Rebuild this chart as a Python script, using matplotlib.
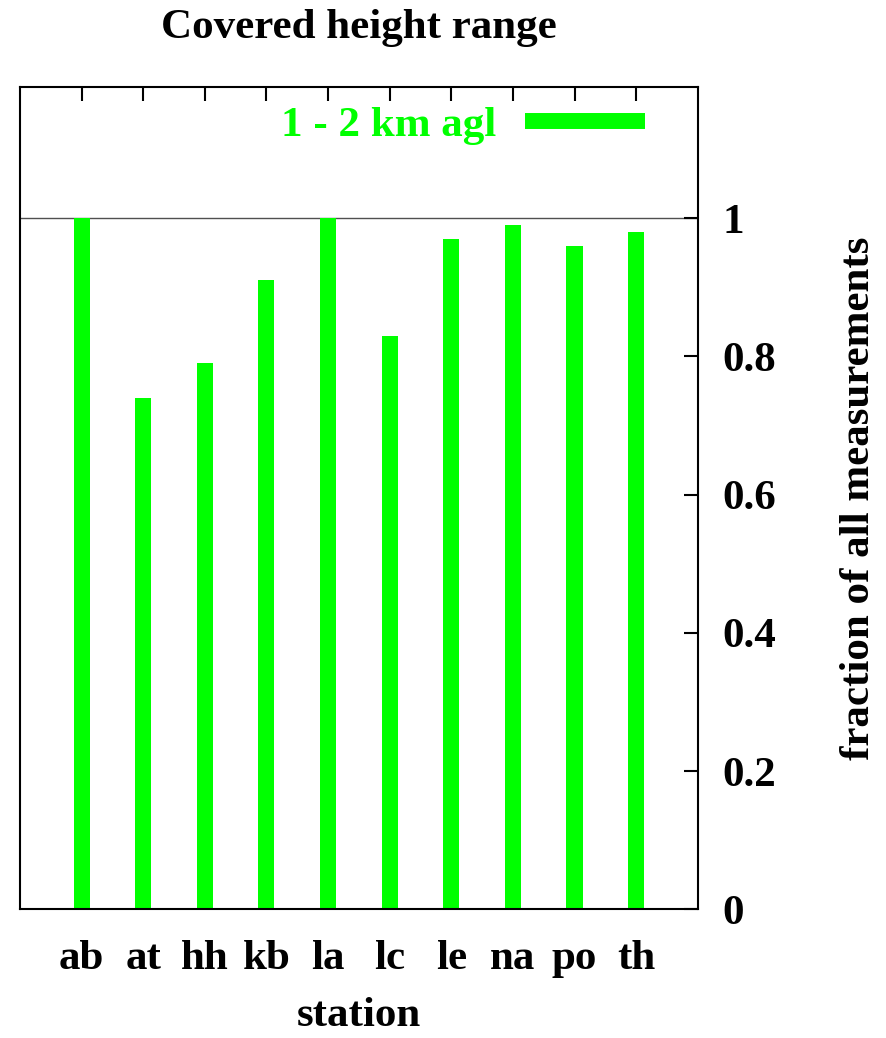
import numpy as np
import matplotlib.pyplot as plt
from matplotlib.lines import Line2D

# data
stations = ['ab', 'at', 'hh', 'kb', 'la', 'lc', 'le', 'na', 'po', 'th']
fraction = [1.0, 0.74, 0.79, 0.91, 1.0, 0.83, 0.97, 0.99, 0.96, 0.98]
yticks = [0, 0.2, 0.4, 0.6, 0.8, 1]
ytick_labels = ['0', '0.2', '0.4', '0.6', '0.8', '1']
series_label = '1 - 2 km agl'

green = '#00ff00'
fs = 31
plt.rcParams['font.family'] = ['Liberation Serif', 'DejaVu Serif']
plt.rcParams['font.weight'] = 'bold'

fig = plt.figure(figsize=(8.86, 10.38), dpi=100)
ax = fig.add_axes([0.0226, 0.124, 0.7649, 0.7925])

x = np.arange(len(stations))
ax.bar(x, fraction, width=0.26, color=green, zorder=2)
ax.axhline(1, color='#505050', lw=1.0, zorder=1)

ax.set_xlim(-1, 10)
ax.set_ylim(0, 1.19)

# y axis on the right, ticks inward
ax.yaxis.tick_right()
ax.yaxis.set_label_position('right')
ax.set_yticks(yticks)
ax.set_yticklabels(ytick_labels, fontsize=fs, fontweight='bold', ha='left')
ax.tick_params(axis='y', direction='in', length=10, width=1.5, pad=18, left=False)

# x tick labels at the bottom, tick marks only on top
ax.set_xticks(x)
ax.set_xticklabels(stations, fontsize=fs, fontweight='bold')
ax.tick_params(axis='x', direction='in', length=10, width=1.5, bottom=False, top=True, pad=22)

for s in ax.spines.values():
    s.set_linewidth(1.5)

ax.set_xlabel('station', fontsize=fs, fontweight='bold', labelpad=14)
ax.set_ylabel('fraction of all measurements', fontsize=fs, fontweight='bold', labelpad=46)
ax.set_title('Covered height range', fontsize=fs, fontweight='bold', pad=35)

handle = Line2D([], [], color=green, lw=11.5, solid_capstyle='butt')
leg = ax.legend([handle], [series_label], loc='upper right', frameon=False,
                markerfirst=False, handlelength=2.8, handletextpad=0.65,
                fontsize=fs, bbox_to_anchor=(0.967, 1.013), borderaxespad=0.3)
for t in leg.get_texts():
    t.set_color(green)
    t.set_fontweight('bold')

fig.savefig('out.png', dpi=100)
